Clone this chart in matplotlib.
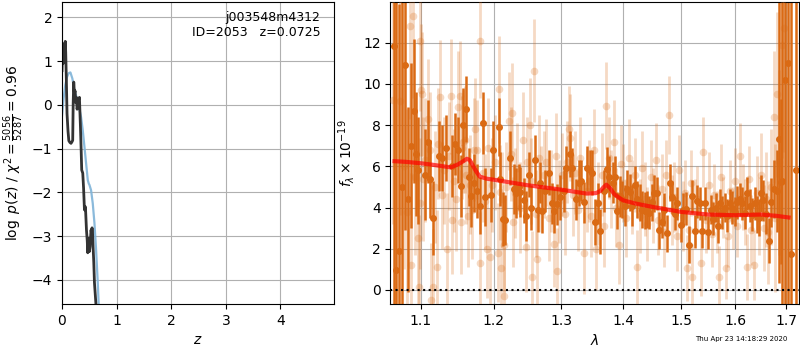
"""
redshift fit summary: log p(z) on the left, 1D grism spectrum on the right
output: out.png
"""

import matplotlib
matplotlib.use("Agg")
import matplotlib.pyplot as plt
from matplotlib.ticker import NullLocator

# ─────────────────────────────────────────────
# left panel: log p(z)
# ─────────────────────────────────────────────
PZ_Z   = [0.000, 0.010, 0.025, 0.040, 0.050, 0.060, 0.068, 0.080, 0.092, 0.110,
          0.125, 0.145, 0.165, 0.185, 0.196, 0.205, 0.215, 0.228, 0.239, 0.252,
          0.264, 0.276, 0.288, 0.300, 0.319, 0.338, 0.350, 0.361, 0.380, 0.395,
          0.411, 0.429, 0.448, 0.462, 0.472, 0.481, 0.490, 0.502, 0.514, 0.524,
          0.532, 0.542, 0.550, 0.560, 0.569, 0.582, 0.594, 0.610, 0.624]
PZ_LOG = [0.78, 1.20, 0.95, 1.40, 1.05, 1.45, 1.20, 0.55, -0.20, -0.60,
          -0.82, -0.86, -0.88, -0.84, -0.81, 0.05, 0.52, 0.25, 0.32, 0.05,
          0.17, -0.10, -0.02, 0.10, 0.17, -0.51, -1.00, -1.49, -1.56, -1.90,
          -2.40, -2.33, -2.86, -3.10, -3.38, -3.05, -3.16, -3.35, -3.24, -3.00,
          -2.86, -2.95, -2.81, -2.95, -3.24, -3.60, -4.06, -4.35, -4.60]

PRIOR_Z   = [0.000, 0.030, 0.060, 0.090, 0.120, 0.154, 0.190, 0.227, 0.260, 0.288,
             0.320, 0.349, 0.380, 0.411, 0.440, 0.472, 0.490, 0.503, 0.532, 0.563,
             0.594, 0.624, 0.655, 0.673]
PRIOR_LOG = [-0.25, 0.15, 0.45, 0.63, 0.72, 0.74, 0.60, 0.33, 0.20, 0.06,
             -0.10, -0.28, -0.58, -0.96, -1.32, -1.72, -1.80, -1.83, -1.95, -2.25,
             -2.70, -3.31, -4.07, -4.60]

ROOT  = "j003548m4312"
OBJ   = 2053
ZBEST = 0.0725
CHI2_TXT = r"$\chi^2=\frac{5056}{5287}=0.96$"

# ─────────────────────────────────────────────
# right panel: 1D spectrum (flux in 1e-19)
# ─────────────────────────────────────────────
DARK_WAVE = [1.0655, 1.0680, 1.0718, 1.0760, 1.0795, 1.0829, 1.0873, 1.0908, 1.0938, 1.0961,
             1.1048, 1.1087, 1.1114, 1.1158, 1.1243, 1.1279, 1.1337, 1.1409, 1.1460, 1.1492,
             1.1538, 1.1566, 1.1603, 1.1644, 1.1681, 1.1719, 1.1761, 1.1797, 1.1840, 1.1868,
             1.1958, 1.1980, 1.2068, 1.2092, 1.2131, 1.2164, 1.2227, 1.2286, 1.2325, 1.2360,
             1.2384, 1.2433, 1.2473, 1.2508, 1.2548, 1.2597, 1.2643, 1.2673, 1.2710, 1.2760,
             1.2811, 1.2862, 1.2898, 1.2939, 1.2990, 1.3042, 1.3084, 1.3135, 1.3173, 1.3241,
             1.3277, 1.3315, 1.3357, 1.3411, 1.3452, 1.3491, 1.3534, 1.3588, 1.3625, 1.3679,
             1.3735, 1.3772, 1.3826, 1.3871, 1.3899, 1.3942, 1.3982, 1.4026, 1.4066, 1.4109,
             1.4150, 1.4194, 1.4235, 1.4279, 1.4320, 1.4365, 1.4406, 1.4434, 1.4480, 1.4520,
             1.4568, 1.4608, 1.4655, 1.4695, 1.4742, 1.4795, 1.4842, 1.4888, 1.4930, 1.4990,
             1.5031, 1.5080, 1.5139, 1.5188, 1.5243, 1.5292, 1.5334, 1.5383, 1.5426, 1.5488,
             1.5536, 1.5587, 1.5629, 1.5672, 1.5710, 1.5755, 1.5799, 1.5849, 1.5899, 1.5944,
             1.5989, 1.6039, 1.6090, 1.6135, 1.6180, 1.6232, 1.6283, 1.6330, 1.6374, 1.6413,
             1.6458, 1.6491, 1.6545, 1.6590, 1.6655, 1.6703, 1.6755, 1.6809, 1.6856, 1.6890,
             1.6924, 1.6971, 1.7039, 1.7093, 1.7210]
DARK_FLUX = [11.85, 0.97, 1.90, 4.98, 10.90, 4.40, 7.00, 8.70, 6.60, 5.80,
             5.60, 7.20, 5.40, 3.50, 6.50, 6.40, 6.90, 6.00, 7.10, 6.80,
             5.05, 8.00, 8.80, 5.50, 4.55, 5.20, 4.80, 4.10, 8.10, 4.50,
             4.60, 6.80, 7.90, 5.40, 3.45, 3.40, 6.40, 4.90, 4.70, 5.00,
             4.75, 4.35, 3.60, 5.60, 4.00, 6.30, 3.90, 5.20, 3.85, 4.80,
             5.70, 4.20, 3.85, 4.15, 4.50, 4.80, 5.90, 6.60, 5.90, 4.40,
             5.20, 5.30, 4.25, 5.90, 5.80, 5.70, 3.30, 4.20, 2.85, 4.80,
             5.85, 5.50, 5.20, 5.50, 3.85, 4.55, 4.40, 4.10, 4.90, 4.75,
             4.10, 5.10, 4.40, 4.25, 3.90, 3.85, 3.90, 3.75, 4.25, 4.70,
             4.70, 2.90, 3.30, 3.90, 2.75, 5.20, 4.50, 3.70, 4.20, 3.15,
             3.90, 3.95, 2.20, 4.55, 2.85, 4.30, 4.20, 2.85, 4.20, 2.80,
             3.90, 3.45, 4.00, 3.10, 4.20, 3.75, 4.00, 3.60, 4.20, 4.00,
             3.80, 4.25, 4.40, 4.20, 3.75, 4.70, 4.10, 3.65, 4.20, 3.65,
             3.50, 4.70, 4.35, 3.70, 2.40, 4.25, 4.90, 4.80, 7.35, 5.25,
             5.30, 10.20, 11.00, 1.75, 5.80]
DARK_ERR  = [15.0, 15.0, 12.0, 10.0, 8.0, 4.5, 4.0, 3.5, 3.0, 2.6,
             2.2, 2.0, 1.9, 1.8, 1.7, 1.6, 1.6, 1.5, 1.5, 1.6,
             1.5, 1.8, 1.6, 1.4, 1.5, 1.4, 1.3, 1.4, 1.5, 1.4,
             1.3, 1.4, 1.4, 1.3, 1.3, 1.2, 1.3, 1.2, 1.2, 1.1,
             1.2, 1.1, 1.2, 1.1, 1.1, 1.2, 1.1, 1.0, 1.1, 1.0,
             1.1, 1.0, 1.1, 1.0, 1.1, 1.0, 1.1, 1.1, 1.0, 1.0,
             1.1, 1.0, 1.0, 1.1, 1.0, 1.1, 1.1, 1.0, 1.1, 1.0,
             1.1, 1.0, 1.0, 1.0, 0.9, 1.0, 0.9, 1.0, 0.9, 0.9,
             1.0, 0.9, 0.9, 0.9, 0.9, 0.9, 0.9, 0.8, 0.9, 0.9,
             0.8, 0.9, 0.8, 0.8, 0.9, 0.9, 0.8, 0.8, 0.8, 0.8,
             0.8, 0.8, 0.9, 0.8, 0.8, 0.8, 0.8, 0.8, 0.8, 0.8,
             0.7, 0.8, 0.7, 0.8, 0.7, 0.8, 0.7, 0.8, 0.7, 0.8,
             0.7, 0.8, 0.8, 0.8, 0.8, 0.8, 0.8, 0.8, 0.8, 0.9,
             0.9, 0.9, 1.0, 1.0, 1.1, 1.2, 1.4, 2.0, 7.0, 4.0,
             9.0, 12.0, 15.0, 15.0, 15.0]

LIGHT_WAVE = [1.0640, 1.0723, 1.0782, 1.0820, 1.0852, 1.0873, 1.0895, 1.0920, 1.0961, 1.0970,
              1.0982, 1.0990, 1.1004, 1.1017, 1.1026, 1.1060, 1.1087, 1.1123, 1.1130, 1.1158,
              1.1180, 1.1212, 1.1220, 1.1256, 1.1280, 1.1310, 1.1346, 1.1370, 1.1400, 1.1414,
              1.1440, 1.1470, 1.1492, 1.1518, 1.1538, 1.1550, 1.1566, 1.1598, 1.1610, 1.1630,
              1.1660, 1.1690, 1.1720, 1.1737, 1.1761, 1.1797, 1.1807, 1.1840, 1.1880, 1.1901,
              1.1920, 1.1938, 1.1970, 1.2010, 1.2053, 1.2068, 1.2082, 1.2102, 1.2120, 1.2140,
              1.2150, 1.2180, 1.2213, 1.2240, 1.2263, 1.2278, 1.2310, 1.2340, 1.2380, 1.2427,
              1.2461, 1.2490, 1.2525, 1.2540, 1.2561, 1.2585, 1.2610, 1.2635, 1.2660, 1.2700,
              1.2740, 1.2775, 1.2810, 1.2850, 1.2887, 1.2920, 1.2939, 1.2970, 1.3010, 1.3060,
              1.3090, 1.3120, 1.3146, 1.3180, 1.3220, 1.3260, 1.3300, 1.3357, 1.3400, 1.3440,
              1.3480, 1.3520, 1.3560, 1.3590, 1.3650, 1.3680, 1.3723, 1.3760, 1.3800, 1.3840,
              1.3880, 1.3926, 1.3960, 1.4000, 1.4050, 1.4100, 1.4150, 1.4190, 1.4235, 1.4280,
              1.4320, 1.4360, 1.4400, 1.4470, 1.4510, 1.4550, 1.4600, 1.4660, 1.4700, 1.4740,
              1.4790, 1.4840, 1.4880, 1.4920, 1.4970, 1.5030, 1.5070, 1.5098, 1.5140, 1.5170,
              1.5202, 1.5250, 1.5290, 1.5352, 1.5400, 1.5450, 1.5500, 1.5560, 1.5600, 1.5650,
              1.5694, 1.5730, 1.5770, 1.5820, 1.5870, 1.5900, 1.5950, 1.6000, 1.6040, 1.6090,
              1.6140, 1.6180, 1.6232, 1.6270, 1.6300, 1.6361, 1.6410, 1.6450, 1.6500, 1.6550,
              1.6600, 1.6640, 1.6700, 1.6755, 1.6780, 1.6821, 1.6860, 1.6924, 1.6957]
LIGHT_FLUX = [9.2, 9.15, 6.0, 3.8, 12.8, 1.2, 13.3, 5.5, 2.5, 0.15,
              12.1, 4.2, 9.7, 9.5, 5.4, 6.3, 8.3, 6.8, -0.5, 0.15,
              5.0, 1.1, 7.1, 9.35, 4.6, 5.8, 2.0, 6.5, 9.4, 3.4,
              5.3, 4.4, 8.9, 9.4, 3.3, 6.9, 7.2, 7.3, 5.6, 3.6,
              5.1, 3.9, 6.8, 7.8, 6.8, 1.3, 12.1, 5.7, 4.3, 2.0,
              6.9, 1.6, 5.1, 6.2, 1.8, 9.75, 4.75, 1.05, 4.4, -0.3,
              2.2, 5.0, 8.2, 6.6, 8.6, 3.3, 4.7, 5.9, 4.0, 7.3,
              2.1, 6.2, 8.0, 5.3, 0.65, 10.65, 3.7, 1.5, 6.4, 4.9,
              5.6, 6.2, 3.5, 4.8, 2.25, 6.5, 0.9, 4.3, 5.6, 3.7,
              6.2, 7.8, 7.4, 4.6, 5.7, 3.9, 6.4, 1.8, 4.8, 5.3,
              3.6, 6.8, 2.0, 4.2, 5.6, 3.1, 8.95, 6.4, 4.9, 7.2,
              4.0, 2.2, 6.1, 5.2, 3.5, 6.4, 4.5, 5.6, 1.1, 3.6,
              5.9, 4.4, 3.2, 5.5, 4.1, 6.3, 3.4, 4.9, 2.8, 5.6,
              8.5, 3.9, 4.5, 2.6, 5.8, 3.6, 4.7, 1.05, 2.9, 5.2,
              0.65, 3.8, 4.4, 1.3, 6.7, 3.4, 5.1, 2.7, 4.6, 3.3,
              0.65, 5.5, 4.0, 1.05, 2.6, 4.8, 3.5, 5.3, 3.1, 6.5,
              4.5, 3.8, 1.1, 5.4, 2.9, 1.2, 4.7, 3.6, 5.6, 3.0,
              4.4, 2.8, 5.0, 8.4, 3.5, 9.5, 6.2, 11.9, 12.7]
LIGHT_ERR  = [6.0, 5.5, 5.0, 5.0, 4.5, 4.5, 4.0, 3.8, 3.5, 3.5,
              3.4, 3.2, 3.2, 3.0, 3.0, 3.0, 2.9, 2.8, 2.8, 2.8,
              2.7, 2.8, 2.7, 2.8, 2.6, 2.6, 2.7, 2.6, 2.8, 2.6,
              2.5, 2.5, 2.7, 2.7, 2.5, 2.5, 2.5, 2.6, 2.4, 2.5,
              2.4, 2.4, 2.5, 2.5, 2.4, 2.5, 2.8, 2.4, 2.3, 2.4,
              2.4, 2.4, 2.3, 2.3, 2.4, 2.6, 2.3, 2.4, 2.3, 2.4,
              2.3, 2.2, 2.4, 2.3, 2.4, 2.2, 2.2, 2.2, 2.2, 2.3,
              2.2, 2.2, 2.3, 2.1, 2.2, 2.5, 2.1, 2.2, 2.1, 2.1,
              2.1, 2.1, 2.1, 2.0, 2.1, 2.1, 2.1, 2.0, 2.0, 2.0,
              2.0, 2.1, 2.1, 2.0, 2.0, 2.0, 2.0, 2.0, 2.0, 2.0,
              2.0, 2.0, 2.0, 2.0, 2.0, 2.0, 2.1, 2.0, 1.9, 2.0,
              1.9, 1.9, 1.9, 1.9, 1.9, 1.9, 1.8, 1.8, 1.8, 1.8,
              1.8, 1.8, 1.8, 1.8, 1.8, 1.8, 1.7, 1.7, 1.7, 1.7,
              1.9, 1.7, 1.7, 1.7, 1.7, 1.7, 1.6, 1.6, 1.6, 1.6,
              1.6, 1.6, 1.6, 1.6, 1.7, 1.6, 1.6, 1.6, 1.5, 1.5,
              1.5, 1.6, 1.5, 1.5, 1.5, 1.5, 1.5, 1.6, 1.5, 1.6,
              1.6, 1.6, 1.6, 1.6, 1.7, 1.7, 1.8, 1.9, 2.0, 2.1,
              2.3, 2.5, 2.8, 3.2, 3.6, 4.0, 4.5, 5.5, 6.0]

MODEL_WAVE = [1.066, 1.080, 1.100, 1.115, 1.130, 1.140, 1.150, 1.157, 1.162, 1.166,
              1.170, 1.175, 1.180, 1.190, 1.200, 1.250, 1.300, 1.340, 1.355, 1.362,
              1.368, 1.372, 1.378, 1.385, 1.392, 1.400, 1.420, 1.450, 1.500, 1.550,
              1.600, 1.650, 1.680, 1.705]
MODEL_FLUX = [6.25, 6.22, 6.15, 6.08, 6.00, 5.95, 6.10, 6.25, 6.37, 6.30,
              6.05, 5.75, 5.50, 5.40, 5.35, 5.08, 4.87, 4.68, 4.70, 4.80,
              5.00, 5.11, 4.95, 4.65, 4.50, 4.35, 4.20, 4.03, 3.79, 3.66,
              3.63, 3.66, 3.60, 3.52]

WAVE_TICKS = [1.1, 1.2, 1.3, 1.4, 1.5, 1.6, 1.7]
FLUX_TICKS = [0, 2, 4, 6, 8, 10, 12]
STAMP = "Thu Apr 23 14:18:29 2020"

ORANGE = "#da6a14"

fig = plt.figure(figsize=(8, 3.5), dpi=100)

# ─────────────────────────────────────────────
# 1. p(z)
# ─────────────────────────────────────────────
ax = fig.add_axes([0.0775, 0.1314, 0.34, 0.8643])
ax.plot(PRIOR_Z, PRIOR_LOG, color="#7fb3d8", lw=1.6, alpha=0.9)
ax.plot(PZ_Z, PZ_LOG, color="#333333", lw=2.0)
ax.set_xlim(0, 4.98)
ax.set_ylim(-4.55, 2.36)
ax.set_xticks([0, 1, 2, 3, 4])
ax.set_yticks([-4, -3, -2, -1, 0, 1, 2])
ax.grid()
ax.set_xlabel(r"$z$")
ax.set_ylabel(r"$\log\ p(z)$" + " / " + CHI2_TXT)
ax.text(0.95, 0.97, f"{ROOT}\nID={OBJ}   z={ZBEST:.4f}",
        ha="right", va="top", fontsize=9, transform=ax.transAxes)

# ─────────────────────────────────────────────
# 2. spectrum
# ─────────────────────────────────────────────
ax2 = fig.add_axes([0.4879, 0.1314, 0.5113, 0.8643])
ax2.errorbar(DARK_WAVE, DARK_FLUX, yerr=DARK_ERR, fmt="o", color=ORANGE,
             ms=4, elinewidth=1.8, capsize=0, zorder=2)
ax2.errorbar(LIGHT_WAVE, LIGHT_FLUX, yerr=LIGHT_ERR, fmt="o", color=ORANGE,
             alpha=0.25, ms=5.5, mec="none", elinewidth=2.0, capsize=0, zorder=3)
ax2.plot(MODEL_WAVE, MODEL_FLUX, color="red", lw=3, alpha=0.7, zorder=4)
ax2.axhline(0, color="k", ls=":", lw=1.5, zorder=5)

ax2.set_xscale("log")
ax2.set_xlim(1.0606, 1.727)
ax2.set_xticks(WAVE_TICKS)
ax2.set_xticklabels([f"{w:.1f}" for w in WAVE_TICKS])
ax2.xaxis.set_minor_locator(NullLocator())
ax2.set_ylim(-0.68, 14.0)
ax2.set_yticks(FLUX_TICKS)
ax2.grid()
ax2.set_xlabel(r"$\lambda$")
ax2.set_ylabel(r"$f_\lambda\times10^{-19}$")

fig.text(0.984, 0.03, STAMP, ha="right", va="center", fontsize=5)

plt.savefig("out.png", dpi=100)
plt.close()
